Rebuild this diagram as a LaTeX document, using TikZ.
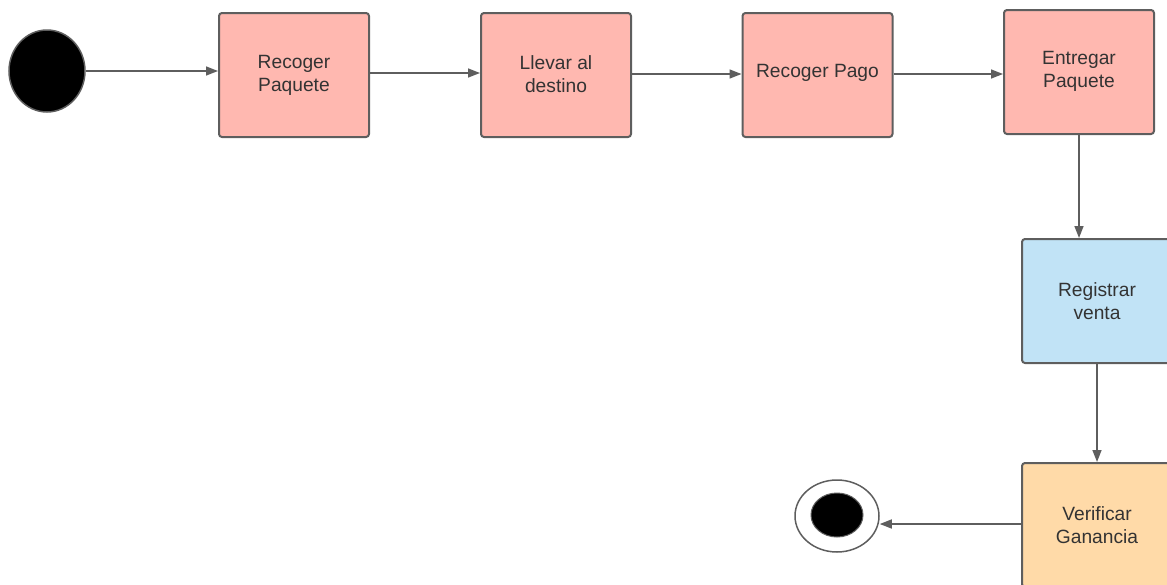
\documentclass[tikz,border=0pt]{standalone}
\usepackage{fontspec}
\setmainfont{Liberation Sans}
\usetikzlibrary{arrows.meta,shapes.geometric}
\definecolor{edgegray}{HTML}{5E5E5E}
\definecolor{txtgray}{HTML}{333333}
\definecolor{pinkfill}{HTML}{FFB8B0}
\definecolor{bluefill}{HTML}{C1E3F6}
\definecolor{orangefill}{HTML}{FFDAA8}
\begin{document}
\begin{tikzpicture}[x=1pt,y=-1pt,
  action/.style={draw=edgegray,line width=2pt,rounded corners=3pt,
    minimum width=150pt,minimum height=124pt,inner sep=0pt},
  flow/.style={draw=edgegray,line width=1.5pt,
    -{Triangle[length=12pt,width=9pt]}}]
  \useasboundingbox (0,0) rectangle (1167,584);
  \clip (0,0) rectangle (1167,584);
  % initial state
  \node[ellipse,draw=edgegray,line width=1.5pt,fill=black,
    minimum width=76pt,minimum height=82pt,inner sep=0pt] (start) at (47,71) {};
  % activities
  \node[action,fill=pinkfill] (a1) at (294,75) {};
  \node[action,fill=pinkfill] (a2) at (556,75) {};
  \node[action,fill=pinkfill] (a3) at (817.5,75) {};
  \node[action,fill=pinkfill] (a4) at (1079,72) {};
  \node[action,fill=bluefill] (a5) at (1097,301) {};
  \node[action,fill=orangefill] (a6) at (1097,525) {};
  % activity labels
  \begin{scope}[every node/.style={align=center,text=txtgray,
      font=\fontsize{19.2}{23}\selectfont,inner sep=0pt}]
    \node (t1) at (294,75.5) {Recoger\\Paquete};
    \node (t2) at (556,74.5) {Llevar al\\destino};
    \node (t3) at (817.5,73) {Recoger Pago};
    \node (t4) at (1079,71.5) {Entregar\\Paquete};
    \node (t5) at (1097,301.5) {Registrar\\venta};
    \node (t6) at (1097,525.5) {Verificar\\Ganancia};
  \end{scope}
  % final state
  \node[ellipse,draw=edgegray,line width=1.5pt,fill=white,
    minimum width=84pt,minimum height=72pt,inner sep=0pt] (stop) at (837,516) {};
  \node[ellipse,fill=black,draw=edgegray,line width=1pt,
    minimum width=52pt,minimum height=44pt,inner sep=0pt] (stopdot) at (837,515) {};
  % transitions
  \draw[flow] (start.east) -- (a1.west |- start.east);
  \draw[flow] (a1.east |- 0,73) -- (a2.west |- 0,73);
  \draw[flow] (a2.east |- 0,74) -- (a3.west |- 0,74);
  \draw[flow] (a3.east |- 0,74) -- (a4.west |- 0,74);
  \draw[flow] (a4.south) -- (a4.south |- a5.north);
  \draw[flow] (a5.south) -- (a5.south |- a6.north);
  \draw[flow] (a6.west |- 0,524) -- (stop.east |- 0,524);
\end{tikzpicture}
\end{document}
